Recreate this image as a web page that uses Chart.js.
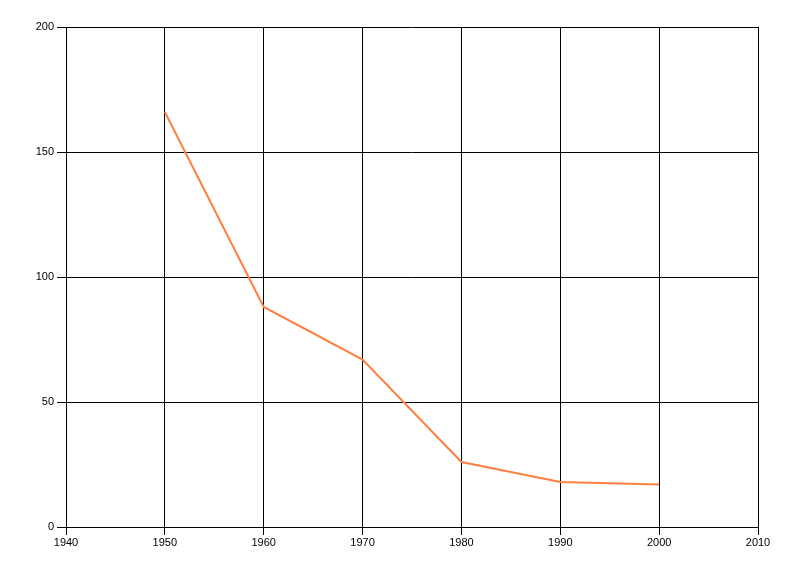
<!DOCTYPE html>
<html>
<head>
<meta charset="utf-8">
<script src="https://cdn.jsdelivr.net/npm/chart.js@4"></script>
<style>
  html, body { margin: 0; padding: 0; background: #fff; }
  #wrap { width: 800px; height: 576px; }
</style>
</head>
<body>
<div id="wrap"><canvas id="chart" width="800" height="576"></canvas></div>
<script>
// data
const years = [1950, 1960, 1970, 1980, 1990, 2000];
const values = [166, 88, 67, 26, 18, 17];

const xMin = 1940, xMax = 2010, xStep = 10;
const yMin = 0, yMax = 200, yStep = 50;

const ctx = document.getElementById('chart').getContext('2d');

new Chart(ctx, {
    type: 'line',
    data: {
        datasets: [{
            data: years.map((y, i) => ({ x: y, y: values[i] })),
            borderColor: '#ff7f3f',
            borderWidth: 2,
            pointRadius: 0,
            tension: 0,
            fill: false
        }]
    },
    options: {
        responsive: false,
        animation: false,
        layout: { padding: { top: 27, right: 42, left: 0, bottom: 0 } },
        plugins: { legend: { display: false }, tooltip: { enabled: false } },
        scales: {
            x: {
                type: 'linear',
                min: xMin,
                max: xMax,
                ticks: {
                    stepSize: xStep,
                    color: '#000',
                    font: { family: 'Liberation Sans', size: 11 },
                    padding: 1,
                    maxRotation: 0,
                    callback: v => String(v)
                },
                grid: { color: '#000', lineWidth: 1, tickLength: 8, drawTicks: true },
                border: { color: '#000', width: 1 },
                afterFit: s => { s.height = 49; }
            },
            y: {
                min: yMin,
                max: yMax,
                ticks: {
                    stepSize: yStep,
                    color: '#000',
                    font: { family: 'Liberation Sans', size: 11 },
                    padding: 3
                },
                grid: { color: '#000', lineWidth: 1, tickLength: 9, drawTicks: true },
                border: { color: '#000', width: 1 },
                afterFit: s => { s.width = 66; }
            }
        }
    }
});
</script>
</body>
</html>
